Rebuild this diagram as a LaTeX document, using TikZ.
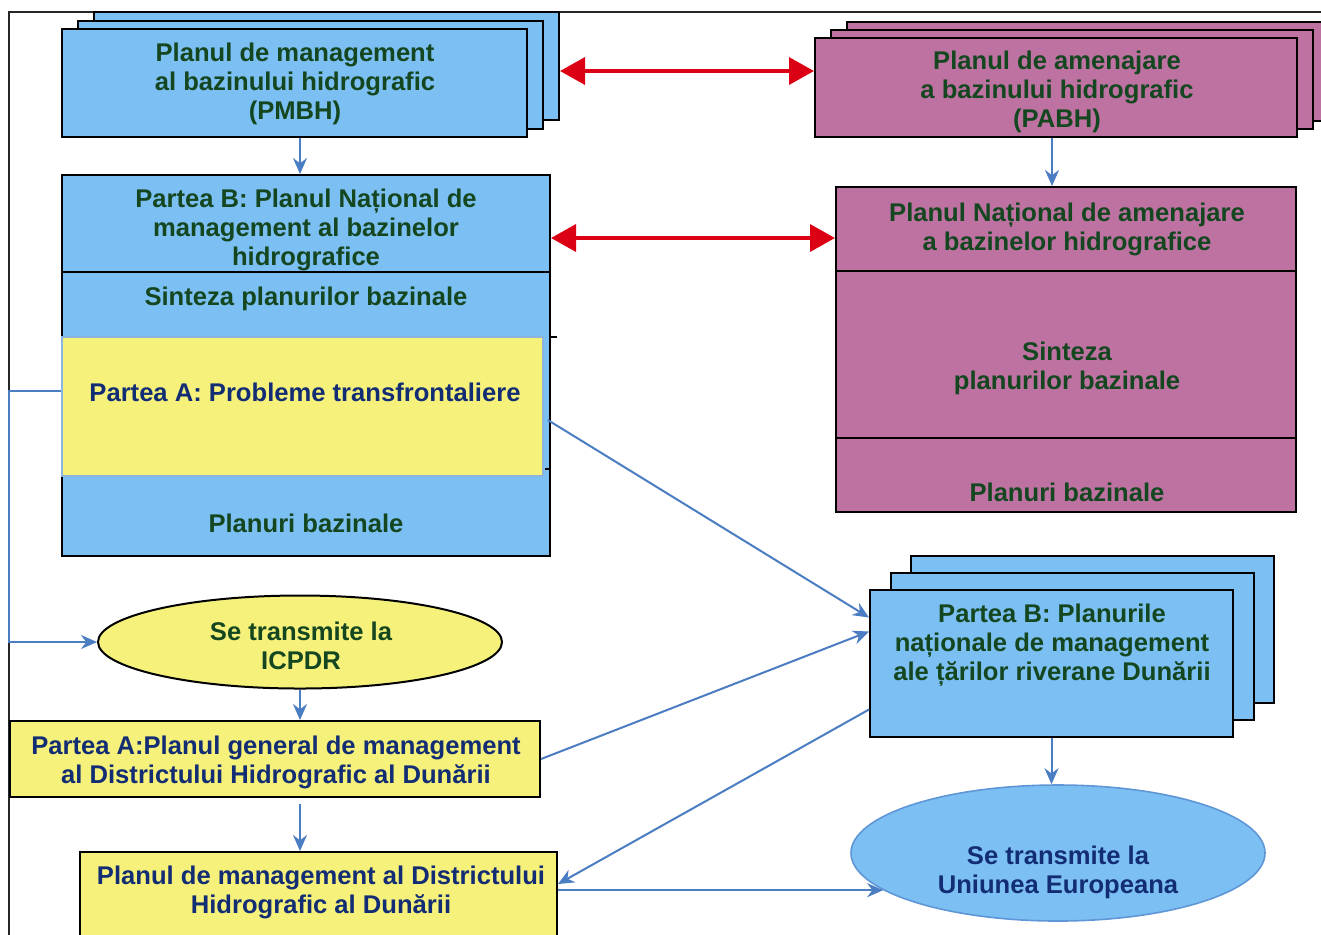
\documentclass[tikz,border=0pt]{standalone}
\usepackage{fontspec}
\setmainfont{Liberation Sans}
\usetikzlibrary{arrows.meta,shapes.geometric}
\definecolor{bfill}{RGB}{124,191,242}
\definecolor{pfill}{RGB}{190,114,162}
\definecolor{yfill}{RGB}{246,241,123}
\definecolor{ybord}{RGB}{140,180,222}
\definecolor{tgreen}{RGB}{20,70,32}
\definecolor{tblue}{RGB}{18,45,115}
\definecolor{ablue}{RGB}{74,125,193}
\definecolor{uebord}{RGB}{95,150,215}
\definecolor{rred}{RGB}{220,0,20}
\tikzset{
  box/.style={draw=black, line width=1pt, inner sep=0pt, rectangle},
  bbox/.style={box, fill=bfill},
  pbox/.style={box, fill=pfill},
  ybox/.style={box, fill=yfill},
  gtxt/.style={text=tgreen, font=\bfseries\fontsize{12.8}{14.5}\selectfont, align=center, inner sep=0pt, yshift=-1pt},
  btxt/.style={text=tblue, font=\bfseries\fontsize{12.8}{14.5}\selectfont, align=center, inner sep=0pt, yshift=-1pt},
  blarr/.style={draw=ablue, line width=1pt, -{Stealth[length=8pt,width=7pt]}},
  redarr/.style={draw=rred, line width=1.8pt, {Triangle[length=12.5pt,width=13.5pt]}-{Triangle[length=12.5pt,width=13.5pt]}},
  divline/.style={draw=black, line width=1pt}
}
\begin{document}
\begin{tikzpicture}[x=0.5pt,y=-0.5pt]
\useasboundingbox (0,0) rectangle (1321,934);
\clip (0,0) rectangle (1321,934);
\fill[white] (0,0) rectangle (1321,934);
% frame
\draw[line width=0.9pt, draw=black!85] (9,950) -- (9,12) -- (1340,12);

% PMBH stack
\node[bbox, minimum width=232.5pt, minimum height=54pt] (pmbh3) at (326.5,66) {};
\node[bbox, minimum width=232.5pt, minimum height=54pt] (pmbh2) at (310.5,74.5) {};
\node[bbox, minimum width=232.5pt, minimum height=54pt] (pmbh) at (294.5,83) {};
\node[gtxt] (pmbht) at (295,82) {Planul de management\\al bazinului hidrografic\\(PMBH)};

% PABH stack
\node[pbox, minimum width=241pt, minimum height=49.5pt] (pabh3) at (1088,71.5) {};
\node[pbox, minimum width=241pt, minimum height=49.5pt] (pabh2) at (1072,79.5) {};
\node[pbox, minimum width=241pt, minimum height=49.5pt] (pabh) at (1056,87.5) {};
\node[gtxt] (pabht) at (1057,90) {Planul de amenajare\\a bazinului hidrografic\\(PABH)};

% national management block
\node[bbox, minimum width=244pt, minimum height=190.5pt] (nat) at (306,365.5) {};
\draw[divline] (62,272) -- (550,272);
\node[ybox, draw=ybord, line width=0.8pt, minimum width=240.5pt, minimum height=69.5pt] (yel) at (302.5,406.5) {};
\draw[divline] (550,337) -- (557,337);
\draw[divline] (545,469) -- (550,469);
\node[gtxt] (natt1) at (306,228) {Partea B: Planul Național de\\management al bazinelor\\hidrografice};
\node[gtxt] (natt2) at (306,297) {Sinteza planurilor bazinale};
\node[btxt] (yelt) at (305,390) {Partea A: Probleme transfrontaliere};
\node[gtxt] (natt3) at (306,521) {Planuri bazinale};

% national amenajare block
\node[pbox, minimum width=230pt, minimum height=162.5pt] (natA) at (1066,349.5) {};
\draw[divline] (836,271) -- (1296,271);
\draw[divline] (836,438) -- (1296,438);
\node[gtxt] (natAt1) at (1067,227) {Planul Național de amenajare\\a bazinelor hidrografice};
\node[gtxt] (natAt2) at (1067,366) {Sinteza\\planurilor bazinale};
\node[gtxt] (natAt3) at (1067,490) {Planuri bazinale};

% ICPDR ellipse
\node[ellipse, draw=black, line width=1pt, fill=yfill, minimum width=202pt, minimum height=46.5pt, inner sep=0pt] (icpdr) at (300,642) {};
\node[gtxt] (icpdrt) at (301,644) {Se transmite la\\ICPDR};

% Partea A box
\node[ybox, minimum width=265pt, minimum height=38pt] (partA) at (275,759) {};
\node[btxt] (partAt) at (276,760.5) {Partea A:Planul general de management\\al Districtului Hidrografic al Dunării};

% Danube management plan
\node[ybox, minimum width=238.5pt, minimum height=48pt] (dmp) at (318.5,900) {};
\node[btxt] (dmpt) at (321,890.5) {Planul de management al Districtului\\Hidrografic al Dunării};

% riverain countries stack
\node[bbox, minimum width=181.5pt, minimum height=73.5pt] (riv3) at (1092.5,629.5) {};
\node[bbox, minimum width=181.5pt, minimum height=73.5pt] (riv2) at (1072,646.5) {};
\node[bbox, minimum width=181.5pt, minimum height=73.5pt] (riv) at (1051.5,663.5) {};
\node[gtxt] (rivt) at (1052,643) {Partea B: Planurile\\naționale de management\\ale țărilor riverane Dunării};

% EU ellipse
\node[ellipse, draw=uebord, line width=0.8pt, fill=bfill, minimum width=207pt, minimum height=68pt, inner sep=0pt] (ue) at (1058,853) {};
\node[btxt] (uet) at (1058,870.5) {Se transmite la\\Uniunea Europeana};

% helper coordinates
\coordinate (cA) at (300,0);
\coordinate (cB) at (1052,0);
\coordinate (r2) at (0,238);

% connectors
\draw[redarr] ([yshift=-2.5pt]pmbh3.east) -- ([yshift=-2.5pt]pmbh3.east -| pabh.west);
\draw[redarr] (nat.east |- r2) -- (natA.west |- r2);
\draw[blarr] (pmbh.south -| cA) -- (nat.north -| cA);
\draw[blarr] (pabh.south -| cB) -- (natA.north -| cB);
\draw[blarr] ([yshift=8pt]yel.west) -- ++(-52,0) |- (icpdr.west);
\draw[blarr] (icpdr.south) -- (icpdr.south |- partA.north);
\draw[blarr, shorten <=3pt] (partA.south -| cA) -- (dmp.north -| cA);
\draw[blarr] (dmp.east |- ue.192) -- (ue.192);
\draw[blarr] ([xshift=2pt,yshift=-6.75pt]yel.east) -- ([yshift=23pt]riv.west);
\draw[blarr] (partA.east) -- ([yshift=16pt]riv.west);
\draw[blarr] ([yshift=-23pt]riv.west) -- ([yshift=8pt]dmp.east);
\draw[blarr] (riv.south) -- (riv.south |- ue.north);
\end{tikzpicture}
\end{document}
